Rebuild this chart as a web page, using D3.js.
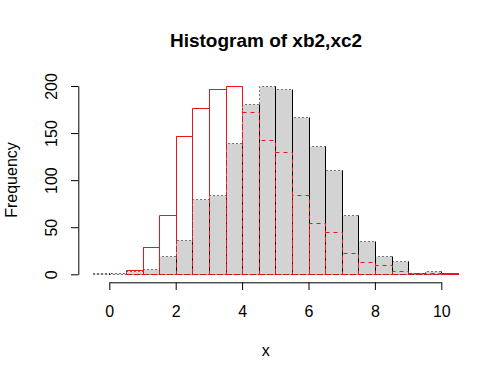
<!DOCTYPE html>
<html>
<head>
<meta charset="utf-8">
<script src="https://cdn.jsdelivr.net/npm/d3@7"></script>
<style>
  html, body { margin: 0; padding: 0; background: #fff; }
  svg { display: block; }
  text { font-family: "Liberation Sans", Arial, Helvetica, sans-serif; fill: #000; }
</style>
</head>
<body>
<svg id="chart" width="494" height="379"></svg>
<script>
// ---- data ----
const titleText = "Histogram of xb2,xc2";
const xLabel = "x";
const yLabel = "Frequency";

// xb2 histogram (grey, dotted border): bin left edges and counts, bin width 0.5
const xb2BinStarts = [-0.5, 0, 0.5, 1, 1.5, 2, 2.5, 3, 3.5, 4, 4.5, 5, 5.5, 6, 6.5, 7, 7.5, 8, 8.5, 9, 9.5];
const xb2Counts    = [1, 1, 3, 6, 19, 36, 80, 84, 139, 181, 200, 197, 167, 136, 111, 63, 35, 19, 14, 1, 3];

// xc2 histogram (red outline): bin left edges and counts
const xc2BinStarts = [0.5, 1, 1.5, 2, 2.5, 3, 3.5, 4, 4.5, 5, 5.5, 6, 6.5, 7, 7.5, 8, 8.5, 9, 9.5, 10];
const xc2Counts    = [5, 29, 63, 147, 177, 197, 200, 172, 143, 130, 84, 55, 45, 23, 13, 10, 3, 1, 1, 1];

const binWidth = 0.5;
const xTicks = [0, 2, 4, 6, 8, 10];
const yTicks = [0, 50, 100, 150, 200];

// ---- layout ----
const svg = d3.select("#chart");
const x = d3.scaleLinear().domain([0, 10]).range([109.3, 441.3]);
const y = d3.scaleLinear().domain([0, 200]).range([274.3, 86]);
const xAxisY = 282.3;
const yAxisX = 78.3;

const xb2 = xb2BinStarts.map((s, i) => ({ x0: s, x1: s + binWidth, n: xb2Counts[i] }));
const xc2 = xc2BinStarts.map((s, i) => ({ x0: s, x1: s + binWidth, n: xc2Counts[i] }));

const px = v => Math.round(x(v)) + 0.5;
const py = v => Math.round(y(v)) + 0.5;

// path like R rect(): bottom-left -> bottom-right -> top-right -> top-left -> close
function barPath(d) {
  const l = px(d.x0), r = px(d.x1), b = py(0), t = py(d.n);
  return `M${l},${b}L${r},${b}L${r},${t}L${l},${t}Z`;
}
function rightEdge(d) {
  const r = px(d.x1), b = py(0), t = py(d.n);
  return `M${r},${b}L${r},${t}`;
}

const red = "#e8161b";

// layer 1: red solid outlines of xc2
svg.append("g").selectAll("path").data(xc2).join("path")
  .attr("d", barPath)
  .attr("fill", "none").attr("stroke", red).attr("stroke-width", 1);

// layer 2: grey filled bars of xb2 with dotted black border
const gGrey = svg.append("g");
gGrey.selectAll("path.bar").data(xb2).join("path")
  .attr("class", "bar")
  .attr("d", barPath)
  .attr("fill", "#d3d3d3").attr("stroke", "#000").attr("stroke-width", 1)
  .attr("stroke-dasharray", "1,3");
// right edges render as solid lines in the reference
gGrey.selectAll("path.edge").data(xb2).join("path")
  .attr("class", "edge")
  .attr("d", rightEdge)
  .attr("fill", "none").attr("stroke", "#000").attr("stroke-width", 1);

// layer 3: red dashed outlines of xc2
svg.append("g").selectAll("path").data(xc2).join("path")
  .attr("d", barPath)
  .attr("fill", "none").attr("stroke", red).attr("stroke-width", 1)
  .attr("stroke-dasharray", "4,4");

// ---- axes ----
const gx = svg.append("g")
  .attr("transform", `translate(0,${xAxisY})`)
  .call(d3.axisBottom(x).tickValues(xTicks).tickFormat(d3.format("d")).tickSize(7.7).tickSizeOuter(0));
gx.selectAll("text").attr("y", 35).attr("dy", 0)
  .style("font-size", "16px").style("font-family", "'Liberation Sans', Arial, sans-serif").attr("fill", "#000");
gx.selectAll("line,path").attr("stroke", "#000");

const gy = svg.append("g")
  .attr("transform", `translate(${yAxisX},0)`)
  .call(d3.axisLeft(y).tickValues(yTicks).tickFormat(d3.format("d")).tickSize(7.3).tickSizeOuter(0));
gy.selectAll("text")
  .attr("transform", "rotate(-90)")
  .attr("x", 0).attr("y", -21).attr("dy", 0)
  .attr("text-anchor", "middle")
  .style("font-size", "16px").style("font-family", "'Liberation Sans', Arial, sans-serif").attr("fill", "#000");
gy.selectAll("line,path").attr("stroke", "#000");

// ---- titles ----
svg.append("text")
  .attr("x", 266).attr("y", 46.7)
  .attr("text-anchor", "middle")
  .style("font-size", "19px").style("font-weight", "bold")
  .text(titleText);

svg.append("text")
  .attr("x", 265.7).attr("y", 356)
  .attr("text-anchor", "middle")
  .style("font-size", "16px")
  .text(xLabel);

svg.append("text")
  .attr("transform", "translate(16.7,180) rotate(-90)")
  .attr("text-anchor", "middle")
  .style("font-size", "16px")
  .text(yLabel);
</script>
</body>
</html>
